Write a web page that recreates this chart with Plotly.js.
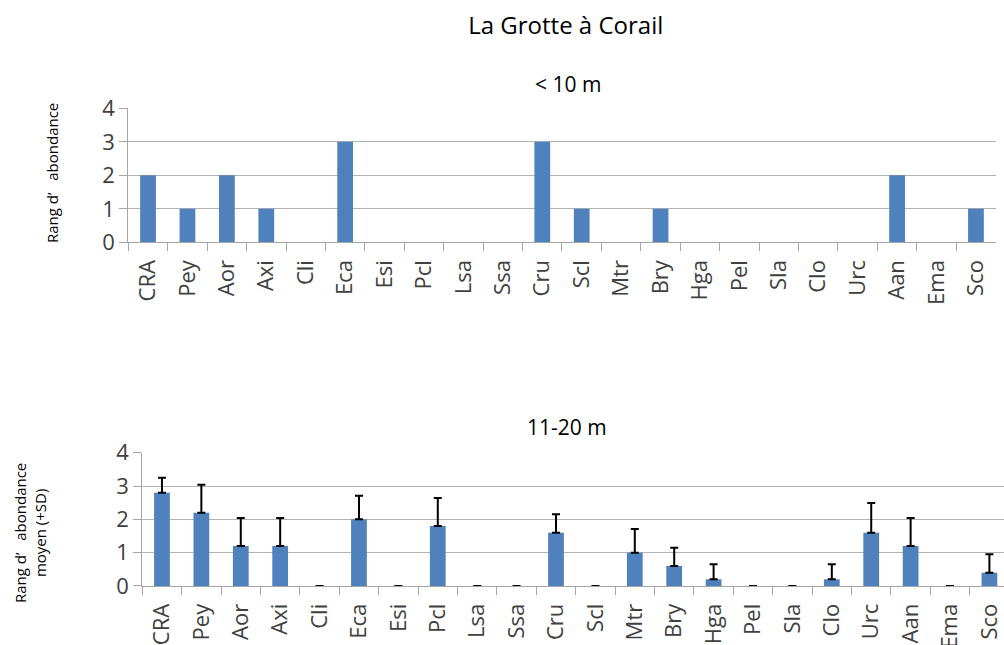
<!DOCTYPE html>
<html>
<head>
<meta charset="utf-8">
<script src="https://cdn.plot.ly/plotly-3.0.1.min.js"></script>
<style>
  html, body { margin: 0; padding: 0; background: #fff; }
  #chart { width: 1004px; height: 645px; }
</style>
</head>
<body>
<div id="chart"></div>
<script>
// Species codes along the x axis (same order in both depth bands)
const species = ["CRA", "Pey", "Aor", "Axi", "Cli", "Eca", "Esi", "Pcl", "Lsa", "Ssa", "Cru",
                 "Scl", "Mtr", "Bry", "Hga", "Pel", "Sla", "Clo", "Urc", "Aan", "Ema", "Sco"];

// Abundance rank, shallow band (< 10 m)
const rankShallow = [2, 1, 2, 1, 0, 3, 0, 0, 0, 0, 3, 1, 0, 1, 0, 0, 0, 0, 0, 2, 0, 1];

// Mean abundance rank and standard deviation, 11-20 m band
const rankDeepMean = [2.8, 2.2, 1.2, 1.2, 0, 2.0, 0, 1.8, 0, 0, 1.6, 0, 1.0, 0.6, 0.2, 0, 0, 0.2, 1.6, 1.2, 0, 0.4];
const rankDeepSD   = [0.45, 0.84, 0.84, 0.84, 0, 0.71, 0, 0.84, 0, 0, 0.55, 0, 0.71, 0.55, 0.45, 0, 0, 0.45, 0.89, 0.84, 0, 0.55];

const yTicks = [0, 1, 2, 3, 4];

const FONT = "Open Sans, Noto Sans, sans-serif";
const BAR = "#4f81bd";
const GRID = "#b3b3b3";
const AXIS = "#a6a6a6";

const traces = [
  {
    type: "bar", x: species, y: rankShallow, xaxis: "x", yaxis: "y",
    marker: { color: BAR, line: { width: 0 } },
    width: 0.4, hoverinfo: "x+y"
  },
  {
    type: "bar", x: species, y: rankDeepMean, xaxis: "x2", yaxis: "y2",
    marker: { color: BAR, line: { width: 0 } },
    width: 0.4,
    error_y: {
      type: "data", symmetric: false, array: rankDeepSD,
      arrayminus: rankDeepSD.map(() => 0),
      color: "#000", thickness: 2, width: 4, visible: true
    },
    hoverinfo: "x+y"
  }
];

function xAxis(domain, anchor, range) {
  return {
    domain: domain, anchor: anchor, type: "category",
    range: range, fixedrange: true,
    showline: true, linecolor: AXIS, linewidth: 1,
    ticks: "outside", tickson: "boundaries", ticklen: 8, tickcolor: AXIS, tickwidth: 1,
    tickangle: -90, ticklabelstandoff: 8,
    tickfont: { family: FONT, size: 22, color: "#404040" },
    showgrid: false, zeroline: false, automargin: false
  };
}

function yAxis(domain, anchor) {
  return {
    domain: domain, anchor: anchor, range: [0, 4], fixedrange: true,
    tickvals: yTicks, ticktext: yTicks.map(String),
    showline: true, linecolor: AXIS, linewidth: 1,
    ticks: "outside", ticklen: 8, tickcolor: AXIS, tickwidth: 1,
    tickfont: { family: FONT, size: 22, color: "#404040" },
    showgrid: true, gridcolor: GRID, gridwidth: 1,
    zeroline: false, automargin: false
  };
}

const layout = {
  width: 1004, height: 645,
  margin: { l: 0, r: 0, t: 0, b: 0 },
  paper_bgcolor: "#fff", plot_bgcolor: "#fff",
  showlegend: false, bargap: 0.6,
  font: { family: FONT, color: "#000" },
  xaxis: xAxis([0.1278, 0.9917], "y", [-0.5, 21.5]),
  yaxis: yAxis([0.6243, 0.8321], "x"),
  xaxis2: xAxis([0.1417, 1.0], "y2", [-0.5, 21.37]),
  yaxis2: yAxis([0.0915, 0.2981], "x2"),
  title: {
    text: "La Grotte à Corail",
    font: { family: FONT, size: 24, color: "#000" },
    x: 0.5635, xanchor: "center", xref: "paper",
    y: 1 - 26 / 645, yanchor: "middle", yref: "container"
  },
  annotations: [
    {
      text: "< 10 m", xref: "paper", yref: "paper",
      x: 0.566, y: 1 - 84 / 645, xanchor: "center", yanchor: "middle",
      showarrow: false, font: { family: FONT, size: 21, color: "#000" }
    },
    {
      text: "11-20 m", xref: "paper", yref: "paper",
      x: 0.565, y: 1 - 427 / 645, xanchor: "center", yanchor: "middle",
      showarrow: false, font: { family: FONT, size: 21, color: "#000" }
    },
    {
      text: "Rang d’   abondance", xref: "paper", yref: "paper",
      x: 52 / 1004, y: 1 - 173 / 645, xanchor: "center", yanchor: "middle",
      textangle: -90, showarrow: false,
      font: { family: FONT, size: 15, color: "#000" }
    },
    {
      text: "Rang d’   abondance<br>moyen (+SD)", xref: "paper", yref: "paper",
      x: 30 / 1004, y: 1 - 533 / 645, xanchor: "center", yanchor: "middle",
      textangle: -90, showarrow: false, align: "center",
      font: { family: FONT, size: 15, color: "#000" }
    }
  ]
};

Plotly.newPlot("chart", traces, layout, { displayModeBar: false, staticPlot: true });
</script>
</body>
</html>
